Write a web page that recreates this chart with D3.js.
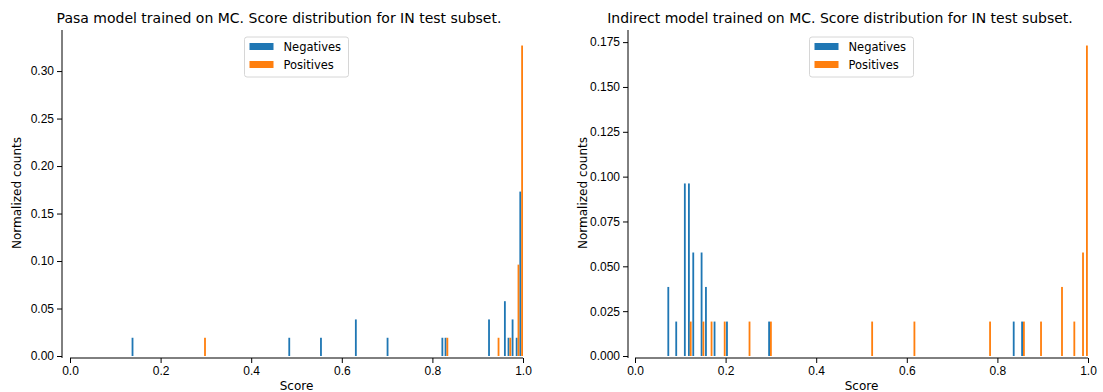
<!DOCTYPE html>
<html>
<head>
<meta charset="utf-8">
<script src="https://cdn.jsdelivr.net/npm/d3@7"></script>
<style>
  body { margin: 0; background: #fff; }
  svg { display: block; font-family: 'DejaVu Sans', sans-serif; }
  .tick-label { font-size: 12px; fill: #000; }
  .title { font-size: 14px; fill: #000; }
  .axis-label { font-size: 12px; fill: #000; }
  .legend-text { font-size: 11.5px; fill: #000; }
</style>
</head>
<body>
<div id="chart"></div>
<script>
// histogram bins (left edge of each 0.01 bin) and normalized counts
const seriesNames = [ 'Negatives', 'Positives' ]
const seriesColors = [ '#1f77b4', '#ff7f0e' ]

const pasaTitle = 'Pasa model trained on MC. Score distribution for IN test subset.'
const pasaNegBins = [ 0.135, 0.481, 0.551, 0.628, 0.698, 0.819, 0.826, 0.922, 0.957, 0.965, 0.974, 0.983, 0.991 ]
const pasaNegValues = [ 0.0192, 0.0192, 0.0192, 0.0385, 0.0192, 0.0192, 0.0192, 0.0385, 0.0577, 0.0192, 0.0385, 0.0192, 0.1731 ]
const pasaPosBins = [ 0.291, 0.826, 0.939, 0.965, 0.983, 0.991 ]
const pasaPosValues = [ 0.0192, 0.0192, 0.0192, 0.0192, 0.0962, 0.3269 ]
const pasaYTicks = [ 0, 0.05, 0.10, 0.15, 0.20, 0.25, 0.30 ]

const indirectTitle = 'Indirect model trained on MC. Score distribution for IN test subset.'
const indirectNegBins = [ 0.0705, 0.088, 0.107, 0.116, 0.1256, 0.144, 0.1536, 0.1726, 0.200, 0.293, 0.833, 0.8515 ]
const indirectNegValues = [ 0.0385, 0.0192, 0.0962, 0.0962, 0.0577, 0.0577, 0.0385, 0.0192, 0.0192, 0.0192, 0.0192, 0.0192 ]
const indirectPosBins = [ 0.116, 0.144, 0.162, 0.191, 0.2458, 0.293, 0.5165, 0.6098, 0.7768, 0.8515, 0.8893, 0.9356, 0.9628, 0.982, 0.9906 ]
const indirectPosValues = [ 0.0192, 0.0192, 0.0192, 0.0192, 0.0192, 0.0192, 0.0192, 0.0192, 0.0192, 0.0192, 0.0192, 0.0385, 0.0192, 0.0577, 0.1731 ]
const indirectYTicks = [ 0, 0.025, 0.05, 0.075, 0.10, 0.125, 0.15, 0.175 ]

const xTicks = [ 0, 0.2, 0.4, 0.6, 0.8, 1.0 ]

const width = 1103
const height = 392
const BIN_WIDTH = 0.01
const TICK_LENGTH = 5

const svg = d3.select('#chart').append('svg')
  .attr('width', width)
  .attr('height', height)

function drawPanel (opts) {
  const g = svg.append('g')

  const x = d3.scaleLinear().domain([ 0, 1 ]).range([ opts.left, opts.right ])
  const yMax = d3.max(opts.series, function (s) { return d3.max(s.values) }) * 1.05
  const y = d3.scaleLinear().domain([ 0, yMax ]).range([ opts.bottom, opts.top ])

  // bars: two series side by side inside each bin, like matplotlib hist
  opts.series.forEach(function (s, si) {
    g.selectAll('.bar-' + si)
      .data(s.bins.map(function (b, i) { return { bin: b, value: s.values[i] } }))
      .enter().append('rect')
      .attr('class', 'bar-' + si)
      .attr('x', function (d) { return x(d.bin + BIN_WIDTH * (0.1 + 0.4 * si)) })
      .attr('width', function (d) { return x(d.bin + BIN_WIDTH * 0.4) - x(d.bin) })
      .attr('y', function (d) { return y(d.value) })
      .attr('height', function (d) { return y(0) - y(d.value) })
      .attr('fill', seriesColors[si])
  })

  // y axis, offset left of the data area
  const yAxis = d3.axisLeft(y)
    .tickValues(opts.yTicks)
    .tickSize(TICK_LENGTH)
    .tickPadding(3)
    .tickFormat(d3.format(opts.yFormat))
  const yg = g.append('g')
    .attr('transform', 'translate(' + opts.ySpine + ',0)')
    .call(yAxis)
  yg.select('.domain').attr('d', 'M0,' + (opts.bottom + 2) + 'V' + opts.top)

  // x axis
  const xAxis = d3.axisBottom(x)
    .tickValues(xTicks)
    .tickSize(TICK_LENGTH)
    .tickPadding(3)
    .tickFormat(d3.format('.1f'))
  const xg = g.append('g')
    .attr('transform', 'translate(0,' + (opts.bottom + 2) + ')')
    .call(xAxis)
  xg.select('.domain').attr('d', 'M' + opts.left + ',0H' + opts.right)

  g.selectAll('.domain').attr('stroke', '#000').attr('stroke-width', 1)
  g.selectAll('.tick line').attr('stroke', '#000').attr('stroke-width', 1)
  g.selectAll('.tick text').attr('class', 'tick-label').attr('font-size', null).attr('font-family', null)

  // title and labels
  g.append('text')
    .attr('class', 'title')
    .attr('x', opts.titleX)
    .attr('y', 23)
    .attr('text-anchor', 'middle')
    .text(opts.title)

  g.append('text')
    .attr('class', 'axis-label')
    .attr('x', (opts.left + opts.right) / 2)
    .attr('y', 390)
    .attr('text-anchor', 'middle')
    .text('Score')

  g.append('text')
    .attr('class', 'axis-label')
    .attr('transform', 'translate(' + (opts.ySpine - 41) + ',' + (opts.top + opts.bottom) / 2 + ') rotate(-90)')
    .attr('text-anchor', 'middle')
    .text('Normalized counts')

  // legend, upper center
  const legendW = 104
  const legendX = (opts.left + opts.right) / 2 - legendW / 2
  const legend = g.append('g').attr('transform', 'translate(' + legendX + ',37)')
  legend.append('rect')
    .attr('width', legendW)
    .attr('height', 40)
    .attr('rx', 2.5)
    .attr('fill', '#fff')
    .attr('fill-opacity', 0.8)
    .attr('stroke', '#d6d6d6')
    .attr('stroke-width', 1)
  seriesNames.forEach(function (name, i) {
    legend.append('rect')
      .attr('x', 5)
      .attr('y', 6 + i * 18)
      .attr('width', 24)
      .attr('height', 7)
      .attr('fill', seriesColors[i])
    legend.append('text')
      .attr('class', 'legend-text')
      .attr('x', 39)
      .attr('y', 9.5 + i * 18)
      .attr('dy', '0.35em')
      .text(name)
  })
}

drawPanel({
  title: pasaTitle,
  titleX: 279,
  left: 70,
  right: 523,
  ySpine: 62,
  top: 30,
  bottom: 356,
  yTicks: pasaYTicks,
  yFormat: '.2f',
  series: [
    { bins: pasaNegBins, values: pasaNegValues },
    { bins: pasaPosBins, values: pasaPosValues }
  ]
})

drawPanel({
  title: indirectTitle,
  titleX: 840,
  left: 635,
  right: 1088,
  ySpine: 628,
  top: 30,
  bottom: 356,
  yTicks: indirectYTicks,
  yFormat: '.3f',
  series: [
    { bins: indirectNegBins, values: indirectNegValues },
    { bins: indirectPosBins, values: indirectPosValues }
  ]
})
</script>
</body>
</html>
